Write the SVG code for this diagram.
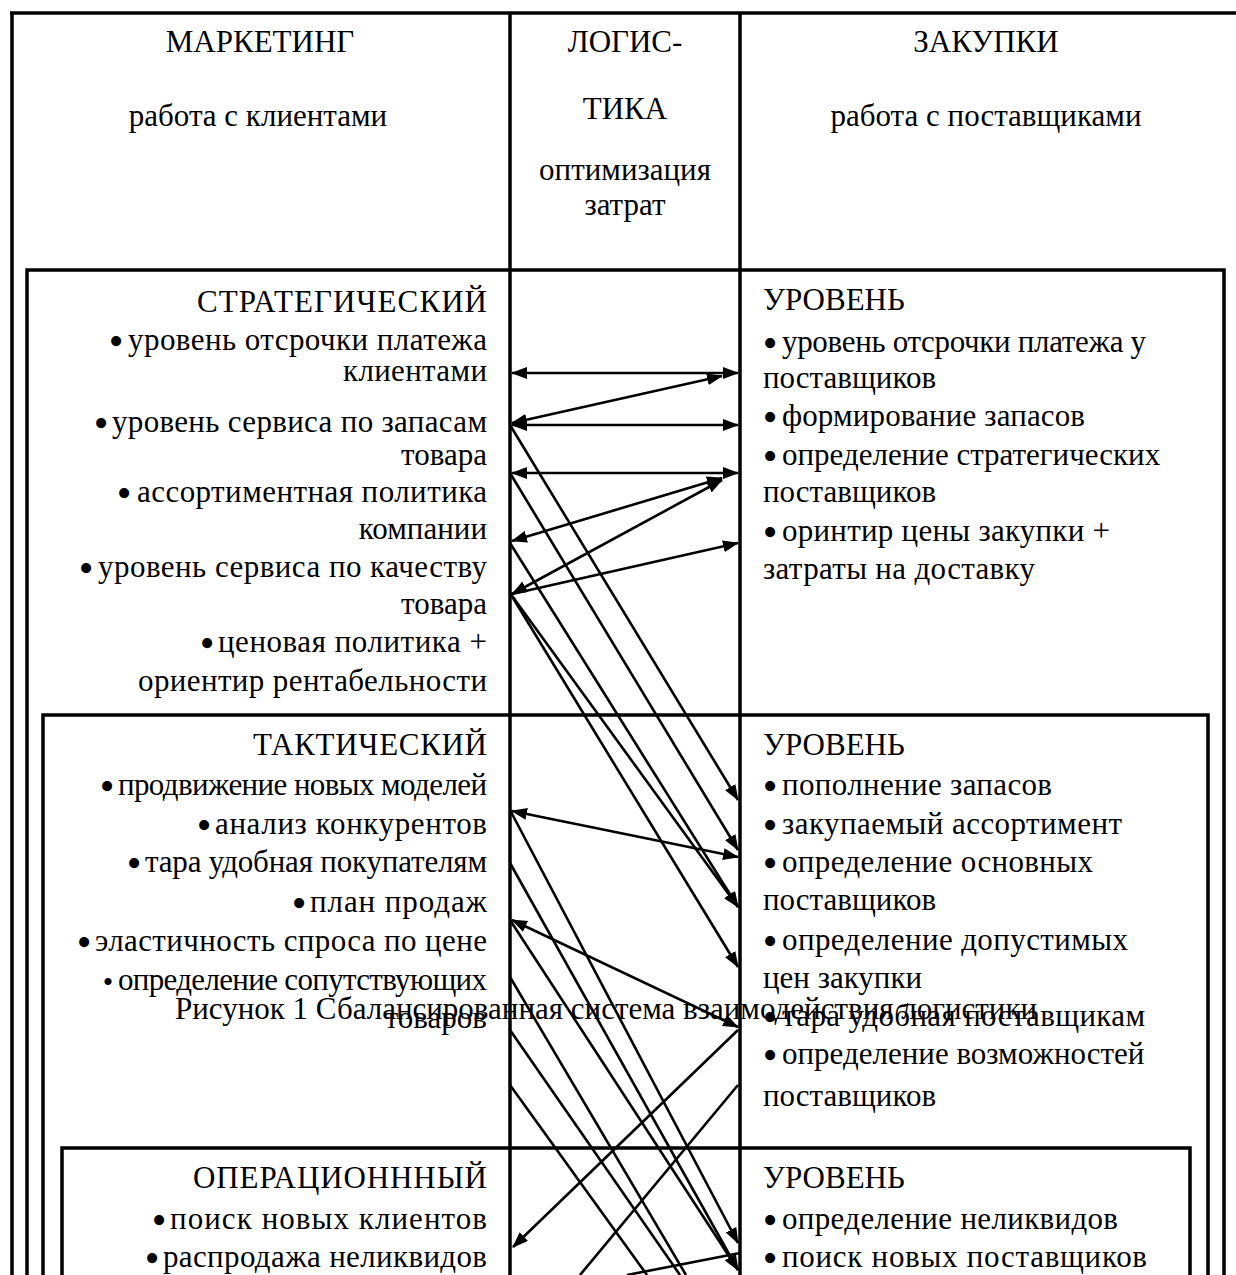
<svg xmlns="http://www.w3.org/2000/svg" width="1236" height="1275" viewBox="0 0 1236 1275">
<style>
text{font-family:"Liberation Serif","Times New Roman",serif;font-size:31px;fill:#000}
.c{text-anchor:middle}
.l{text-anchor:end}
.b{text-anchor:middle;font-size:42px}
.bs{text-anchor:middle;font-size:30px}
.frame{fill:none;stroke:#000;stroke-width:3.5}
.col{stroke:#000;stroke-width:3.5}
.cn line{stroke:#000;stroke-width:2.6}
.a2{marker-start:url(#ah);marker-end:url(#ah)}
.a1{marker-end:url(#ah)}
</style>
<defs>
<marker id="ah" viewBox="0 0 16 12" refX="15" refY="6" markerWidth="16" markerHeight="12" markerUnits="userSpaceOnUse" orient="auto-start-reverse">
<path d="M0,0 L16,6 L0,12 z" fill="#000"/>
</marker>
</defs>
<rect width="1236" height="1275" fill="#fff"/>

<g id="frame">
<line class="col" x1="10" y1="13" x2="1236" y2="13" stroke-width="4"/>
<line class="col" x1="12" y1="13" x2="12" y2="1275"/>
<line class="col" x1="510" y1="13" x2="510" y2="1275"/>
<line class="col" x1="740" y1="13" x2="740" y2="1275"/>
</g>

<g id="header-marketing">
<text class="c" x="260" y="52">МАРКЕТИНГ</text>
<text class="c" x="258" y="126">работа с клиентами</text>
</g>
<g id="header-logistics">
<text class="c" x="625" y="52">ЛОГИС-</text>
<text class="c" x="625" y="119">ТИКА</text>
<text class="c" x="625" y="180">оптимизация</text>
<text class="c" x="625" y="215">затрат</text>
</g>
<g id="header-purchasing">
<text class="c" x="986" y="52">ЗАКУПКИ</text>
<text class="c" x="986" y="126">работа с поставщиками</text>
</g>

<g id="strategic">
<path class="frame" d="M27,1275 V270 H1224 V1275"/>
<text class="l" x="487" y="312" textLength="290">СТРАТЕГИЧЕСКИЙ</text>
<text class="b" x="116" y="355">•</text>
<text class="l" x="487" y="350" textLength="359">уровень отсрочки платежа</text>
<text class="l" x="487" y="381" textLength="144">клиентами</text>
<text class="b" x="101" y="437">•</text>
<text class="l" x="487" y="432" textLength="375">уровень сервиса по запасам</text>
<text class="l" x="487" y="465">товара</text>
<text class="b" x="124" y="507">•</text>
<text class="l" x="487" y="502" textLength="350">ассортиментная политика</text>
<text class="l" x="487" y="539">компании</text>
<text class="b" x="86" y="582">•</text>
<text class="l" x="487" y="577" textLength="389">уровень сервиса по качеству</text>
<text class="l" x="487" y="614">товара</text>
<text class="b" x="207" y="657">•</text>
<text class="l" x="487" y="652" textLength="269">ценовая политика +</text>
<text class="l" x="487" y="691" textLength="349">ориентир рентабельности</text>
<text x="763" y="310">УРОВЕНЬ</text>
<text class="b" x="770" y="357">•</text>
<text x="782" y="352" textLength="364">уровень отсрочки платежа у</text>
<text x="763" y="388">поставщиков</text>
<text class="b" x="770" y="431">•</text>
<text x="782" y="426" textLength="303">формирование запасов</text>
<text class="b" x="770" y="470">•</text>
<text x="782" y="465">определение стратегических</text>
<text x="763" y="502">поставщиков</text>
<text class="b" x="770" y="546">•</text>
<text x="782" y="541" textLength="328">оринтир цены закупки +</text>
<text x="763" y="579" textLength="272">затраты на доставку</text>
</g>

<g id="tactical">
<path class="frame" d="M43,1275 V715 H1208 V1275"/>
<text class="l" x="487" y="755" textLength="234">ТАКТИЧЕСКИЙ</text>
<text class="b" x="107" y="800">•</text>
<text class="l" x="487" y="795" textLength="369">продвижение новых моделей</text>
<text class="b" x="204" y="839">•</text>
<text class="l" x="487" y="834" textLength="272">анализ конкурентов</text>
<text class="b" x="134" y="877">•</text>
<text class="l" x="487" y="872" textLength="342">тара удобная покупателям</text>
<text class="b" x="299" y="917">•</text>
<text class="l" x="487" y="912" textLength="177">план продаж</text>
<text class="b" x="84" y="956">•</text>
<text class="l" x="487" y="951" textLength="392">эластичность спроса по цене</text>
<text class="bs" x="108" y="992">•</text>
<text class="l" x="487" y="990" textLength="369">определение сопутствующих</text>
<text class="l" x="487" y="1028">товаров</text>
<text x="763" y="755">УРОВЕНЬ</text>
<text class="b" x="770" y="800">•</text>
<text x="782" y="795" textLength="270">пополнение запасов</text>
<text class="b" x="770" y="839">•</text>
<text x="782" y="834" textLength="340">закупаемый ассортимент</text>
<text class="b" x="770" y="877">•</text>
<text x="782" y="872" textLength="311">определение основных</text>
<text x="763" y="910">поставщиков</text>
<text class="b" x="770" y="955">•</text>
<text x="782" y="950" textLength="346">определение допустимых</text>
<text x="763" y="988">цен закупки</text>
<text class="b" x="770" y="1031">•</text>
<text x="782" y="1026" textLength="363">тара удобная поставщикам</text>
<text class="b" x="770" y="1069">•</text>
<text x="782" y="1064">определение возможностей</text>
<text x="763" y="1106">поставщиков</text>
</g>

<g id="operational">
<path class="frame" d="M62,1275 V1148 H1190 V1275"/>
<text class="l" x="487" y="1188" textLength="294">ОПЕРАЦИОНННЫЙ</text>
<text class="b" x="159" y="1234">•</text>
<text class="l" x="487" y="1229" textLength="317">поиск новых клиентов</text>
<text class="b" x="152" y="1272">•</text>
<text class="l" x="487" y="1267" textLength="324">распродажа неликвидов</text>
<text x="763" y="1188">УРОВЕНЬ</text>
<text class="b" x="770" y="1234">•</text>
<text x="782" y="1229" textLength="336">определение неликвидов</text>
<text class="b" x="770" y="1272">•</text>
<text x="782" y="1267" textLength="365">поиск новых поставщиков</text>
</g>

<g id="connectors" class="cn">
<line class="a2" x1="512" y1="373" x2="738" y2="373"/>
<line class="a2" x1="512" y1="423" x2="722" y2="376"/>
<line class="a2" x1="512" y1="425" x2="738" y2="425"/>
<line class="a2" x1="512" y1="473" x2="738" y2="473"/>
<line class="a2" x1="512" y1="541" x2="722" y2="478"/>
<line class="a2" x1="512" y1="594" x2="722" y2="480"/>
<line class="a1" x1="512" y1="594" x2="738" y2="543"/>
<line class="a1" x1="510" y1="425" x2="738" y2="800"/>
<line class="a1" x1="510" y1="473" x2="738" y2="850"/>
<line class="a1" x1="510" y1="543" x2="738" y2="907"/>
<line class="a1" x1="510" y1="593" x2="738" y2="907"/>
<line class="a1" x1="510" y1="593" x2="738" y2="967"/>
<line class="a2" x1="512" y1="811" x2="738" y2="857"/>
<line class="a1" x1="510" y1="810" x2="738" y2="1243"/>
<line class="a1" x1="510" y1="863" x2="738" y2="1270"/>
<line class="a2" x1="512" y1="920" x2="738" y2="1027"/>
<line class="a1" x1="510" y1="920" x2="738" y2="1270"/>
<line x1="510" y1="977" x2="686" y2="1275"/>
<line x1="510" y1="1030" x2="680" y2="1275"/>
<line x1="510" y1="1085" x2="647" y2="1275"/>
<line class="a1" x1="738" y1="1030" x2="513" y2="1247"/>
<line x1="738" y1="1085" x2="580" y2="1275"/>
<line x1="740" y1="1253" x2="627" y2="1275"/>
</g>

<g id="caption">
<text x="175" y="1019">Рисунок 1 Сбалансированная система взаимодействия логистики</text>
</g>
</svg>
